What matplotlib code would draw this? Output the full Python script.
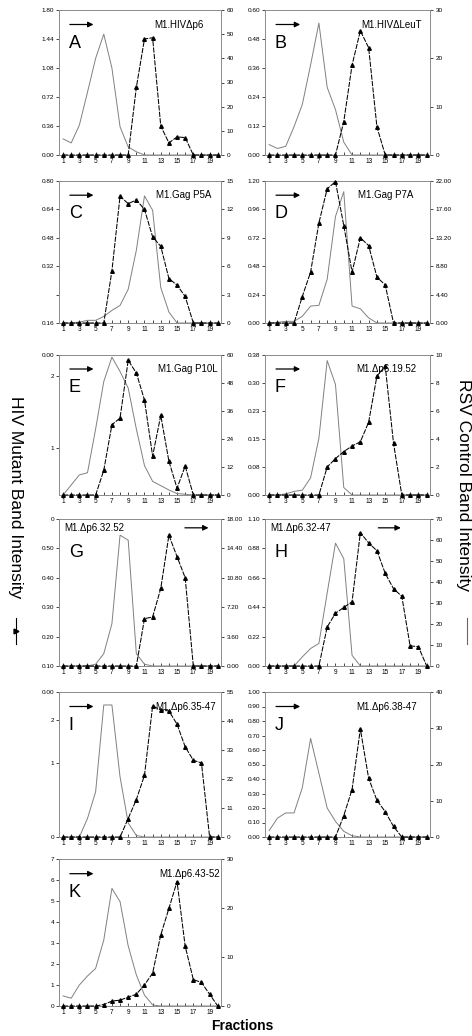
import matplotlib
matplotlib.use('Agg')
import matplotlib.pyplot as plt
from matplotlib.lines import Line2D

plt.rcParams['font.family'] = ['Liberation Sans', 'DejaVu Sans']

fractions = list(range(1, 21))

# HIV mutant band (triangles), values on the right-hand scale of each panel
tri_A = [0, 0, 0, 0, 0, 0, 0, 0, 0, 28, 48, 48.5, 12, 5, 7.5, 7.2, 0, 0, 0, 0]
tri_B = [0, 0, 0, 0, 0, 0, 0, 0, 0, 6.9, 18.6, 25.7, 22.2, 5.8, 0, 0, 0, 0, 0, 0]
tri_C = [0, 0, 0, 0, 0, 0, 5.5, 13.4, 12.6, 13.0, 12.0, 9.1, 8.1, 4.7, 4.0, 2.8, 0, 0, 0, 0]
tri_D = [0, 0, 0, 0, 4.1, 7.9, 15.5, 20.8, 21.9, 15.1, 7.9, 13.2, 12.0, 7.1, 5.9, 0, 0, 0, 0, 0]
tri_E = [0, 0, 0, 0, 0, 10.6, 30.1, 33.0, 57.7, 52.3, 40.7, 16.7, 34.1, 14.5, 2.9, 12.4, 0, 0, 0, 0]
tri_F = [0, 0, 0, 0, 0, 0, 0, 2.0, 2.6, 3.1, 3.5, 3.8, 5.2, 8.5, 9.2, 3.7, 0, 0, 0, 0]
tri_G = [0, 0, 0, 0, 0, 0, 0, 0, 0, 0, 5.8, 6.0, 9.5, 16.0, 13.4, 10.8, 0, 0, 0, 0]
tri_H = [0, 0, 0, 0, 0, 0, 0, 18.6, 25.1, 27.9, 30.6, 63.5, 58.6, 54.9, 44.1, 36.8, 33.2, 9.6, 9.2, 0]
tri_I = [0, 0, 0, 0, 0, 0, 0, 0, 7.0, 14.2, 23.4, 49.7, 48.2, 47.8, 42.8, 34.2, 29.1, 28.1, 0, 0]
tri_J = [0, 0, 0, 0, 0, 0, 0, 0, 0, 5.9, 13.1, 29.8, 16.2, 10.1, 7.0, 2.9, 0, 0, 0, 0]
tri_K = [0, 0, 0, 0, 0, 0.3, 1.0, 1.2, 1.8, 2.4, 4.3, 6.7, 14.5, 19.9, 25.4, 12.2, 5.4, 4.8, 2.4, 0]

# RSV control band (plain line), values on the left-hand scale of each panel
line_A = [0.2, 0.15, 0.37, 0.78, 1.2, 1.5, 1.08, 0.35, 0.1, 0.04, 0, 0, 0, 0, 0, 0, 0, 0, 0, 0]
line_B = [0.043, 0.027, 0.036, 0.117, 0.209, 0.373, 0.546, 0.28, 0.188, 0.053, 0, 0, 0, 0, 0, 0, 0, 0, 0, 0]
line_C = [0, 0, 0.005, 0.015, 0.015, 0.037, 0.071, 0.099, 0.19, 0.41, 0.716, 0.635, 0.2, 0.062, 0, 0, 0, 0, 0, 0]
line_D = [0, 0.005, 0.014, 0.014, 0.057, 0.143, 0.149, 0.37, 0.9, 1.11, 0.143, 0.12, 0.043, 0, 0, 0, 0, 0, 0, 0]
line_E = [0.34, 0.48, 0.62, 0.65, 1.26, 1.92, 2.26, 2.06, 1.83, 1.26, 0.75, 0.53, 0.47, 0.41, 0.36, 0.35, 0.34, 0.34, 0.34, 0.34]
line_F = [0, 0, 0.003, 0.0096, 0.013, 0.046, 0.152, 0.36, 0.296, 0.02, 0, 0, 0, 0, 0, 0, 0, 0, 0, 0]
line_G = [0.10, 0.10, 0.10, 0.10, 0.106, 0.142, 0.244, 0.545, 0.528, 0.142, 0.106, 0.10, 0.10, 0.10, 0.10, 0.10, 0.10, 0.10, 0.10, 0.10]
line_H = [0, 0, 0, 0, 0.068, 0.131, 0.169, 0.546, 0.919, 0.803, 0.08, 0, 0, 0, 0, 0, 0, 0, 0, 0]
line_I = [0, 0, 0, 0.25, 0.61, 1.78, 1.78, 0.81, 0.19, 0.02, 0, 0, 0, 0, 0, 0, 0, 0, 0, 0]
line_J = [0.044, 0.13, 0.166, 0.166, 0.34, 0.68, 0.44, 0.20, 0.108, 0.039, 0.009, 0, 0, 0, 0, 0, 0, 0, 0, 0]
line_K = [0.48, 0.37, 1.0, 1.43, 1.79, 3.14, 5.6, 4.97, 2.86, 1.48, 0.52, 0.05, 0, 0, 0, 0, 0, 0, 0, 0]

names = ['M1.HIV\u0394p6', 'M1.HIV\u0394LeuT', 'M1.Gag P5A', 'M1.Gag P7A', 'M1.Gag P10L',
         'M1.\u0394p6.19.52', 'M1.\u0394p6.32.52', 'M1.\u0394p6.32-47', 'M1.\u0394p6.35-47',
         'M1.\u0394p6.38-47', 'M1.\u0394p6.43-52']
letters = ['A', 'B', 'C', 'D', 'E', 'F', 'G', 'H', 'I', 'J', 'K']

# left axis: limits, tick values, tick labels
left_lim = [(0, 1.8), (0, 0.6), (0, 0.8), (0, 1.2), (0.34, 2.29), (0, 0.375),
            (0.10, 0.60), (0, 1.1), (0, 1.955), (0, 1.0), (0, 7)]
left_ticks = [[0, 0.36, 0.72, 1.08, 1.44, 1.80],
              [0, 0.12, 0.24, 0.36, 0.48, 0.60],
              [0, 0.16, 0.32, 0.48, 0.64, 0.80],
              [0, 0.24, 0.48, 0.72, 0.96, 1.20],
              [1, 2, 2.29],
              [0, 0.075, 0.15, 0.225, 0.30, 0.375],
              [0.10, 0.20, 0.30, 0.40, 0.50, 0.60],
              [0, 0.22, 0.44, 0.66, 0.88, 1.10],
              [0, 1, 1.58, 1.955],
              [0, 0.1, 0.2, 0.3, 0.4, 0.5, 0.6, 0.7, 0.8, 0.9, 1.0],
              [0, 1, 2, 3, 4, 5, 6, 7]]
left_labels = [['0.00', '0.36', '0.72', '1.08', '1.44', '1.80'],
               ['0.00', '0.12', '0.24', '0.36', '0.48', '0.60'],
               ['0.16', '', '0.32', '0.48', '0.64', '0.80'],
               ['0.00', '0.24', '0.48', '0.72', '0.96', '1.20'],
               ['1', '2', '0.00'],
               ['0.00', '0.08', '0.15', '0.23', '0.30', '0.38'],
               ['0.10', '0.20', '0.30', '0.40', '0.50', '0'],
               ['0.00', '0.22', '0.44', '0.66', '0.88', '1.10'],
               ['0', '1', '2', '0.00'],
               ['0.00', '0.10', '0.20', '0.30', '0.40', '0.50', '0.60', '0.70', '0.80', '0.90', '1.00'],
               ['0', '1', '2', '3', '4', '5', '6', '7']]

right_max = [60, 30, 15, 22, 60, 10, 18, 70, 55, 40, 30]
right_ticks = [[0, 10, 20, 30, 40, 50, 60],
               [0, 10, 20, 30],
               [0, 3, 6, 9, 12, 15],
               [0, 4.4, 8.8, 13.2, 17.6, 22],
               [0, 12, 24, 36, 48, 60],
               [0, 2, 4, 6, 8, 10],
               [0, 3.6, 7.2, 10.8, 14.4, 18],
               [0, 10, 20, 30, 40, 50, 60, 70],
               [0, 11, 22, 33, 44, 55],
               [0, 10, 20, 30, 40],
               [0, 10, 20, 30]]
right_labels = [['0', '10', '20', '30', '40', '50', '60'],
                ['0', '10', '20', '30'],
                ['0', '3', '6', '9', '12', '15'],
                ['0.00', '4.40', '8.80', '13.20', '17.60', '22.00'],
                ['0', '12', '24', '36', '48', '60'],
                ['0', '2', '4', '6', '8', '10'],
                ['0.00', '3.60', '7.20', '10.80', '14.40', '18.00'],
                ['0', '10', '20', '30', '40', '50', '60', '70'],
                ['0', '11', '22', '33', '44', '55'],
                ['0', '10', '20', '30', '40'],
                ['0', '10', '20', '30']]

tri_series = [tri_A, tri_B, tri_C, tri_D, tri_E, tri_F, tri_G, tri_H, tri_I, tri_J, tri_K]
line_series = [line_A, line_B, line_C, line_D, line_E, line_F, line_G, line_H, line_I, line_J, line_K]

W, H = 472, 1036
fig = plt.figure(figsize=(W / 100, H / 100), dpi=100)

# panel boxes in pixels: (x0, x1, top, bottom)
col_x = [(59, 221), (265, 430)]
row_y = [(10, 155), (181, 323), (355, 495), (519, 666), (692, 837), (859, 1006)]
# right edge of the construct name, in axes fraction
name_x = [0.89, 0.95, 0.94, 0.90, 0.98, 0.92, None, None, 0.97, 0.92, 0.99]

for i in range(11):
    r, c = divmod(i, 2)
    x0, x1 = col_x[c]
    top, bot = row_y[r]
    ax = fig.add_axes([x0 / W, 1 - bot / H, (x1 - x0) / W, (bot - top) / H])
    axr = ax.twinx()

    ax.plot(fractions, line_series[i], color='0.5', lw=0.7, zorder=2)
    axr.plot(fractions, tri_series[i], color='black', lw=0.75, ls=(0, (5, 1.2)),
             marker='^', ms=2.6, mec='black', mfc='black', clip_on=False, zorder=3)

    ax.set_xlim(0.5, 20.4)
    ax.set_ylim(*left_lim[i])
    axr.set_ylim(0, right_max[i])
    ax.set_xticks(fractions)
    ax.set_xticklabels([str(f) if f % 2 else '' for f in fractions])
    ax.set_yticks(left_ticks[i])
    ax.set_yticklabels(left_labels[i])
    axr.set_yticks(right_ticks[i])
    axr.set_yticklabels(right_labels[i])

    ax.tick_params(axis='x', direction='in', length=2.5, width=0.5, labelsize=4.7, pad=2)
    ax.tick_params(axis='y', direction='out', length=2, width=0.5, labelsize=4.6, pad=1.5)
    axr.tick_params(axis='y', direction='out', length=2, width=0.5, labelsize=4.6, pad=2)
    for a in (ax, axr):
        for s in a.spines.values():
            s.set_color('0.55')
            s.set_linewidth(0.6)

    if letters[i] in ('G', 'H'):
        ax.text(0.03, 0.94, names[i], transform=ax.transAxes, fontsize=7, ha='left', va='center')
        ax.annotate('', xy=(0.94 if i == 6 else 0.84, 0.94), xytext=(0.76 if i == 6 else 0.67, 0.94),
                    xycoords='axes fraction',
                    arrowprops=dict(arrowstyle='-|>', color='black', lw=0.9, mutation_scale=8))
    else:
        ax.text(name_x[i], 0.90, names[i], transform=ax.transAxes, fontsize=7, ha='right', va='center')
        ax.annotate('', xy=(0.23, 0.90), xytext=(0.05, 0.90), xycoords='axes fraction',
                    arrowprops=dict(arrowstyle='-|>', color='black', lw=0.9, mutation_scale=8))
    ax.text(0.06, 0.77, letters[i], transform=ax.transAxes, fontsize=13, ha='left', va='center')

fig.text(15 / W, 1 - 497 / H, 'HIV Mutant Band Intensity', rotation=270,
         fontsize=12.5, ha='center', va='center')
fig.add_artist(Line2D([16 / W, 16 / W], [1 - 618 / H, 1 - 644 / H], color='black', lw=0.8,
                      transform=fig.transFigure))
fig.add_artist(Line2D([16 / W], [1 - 631 / H], marker='>', ms=3.5, color='black',
                      transform=fig.transFigure))
fig.text(463 / W, 1 - 485 / H, 'RSV Control Band Intensity', rotation=270,
         fontsize=12.5, ha='center', va='center')
fig.add_artist(Line2D([467 / W, 467 / W], [1 - 618 / H, 1 - 644 / H], color='0.4', lw=0.8,
                      transform=fig.transFigure))
fig.text(242 / W, 1 - 1026 / H, 'Fractions', fontsize=10, fontweight='bold', ha='center', va='center')

fig.savefig('out.png', dpi=100)
